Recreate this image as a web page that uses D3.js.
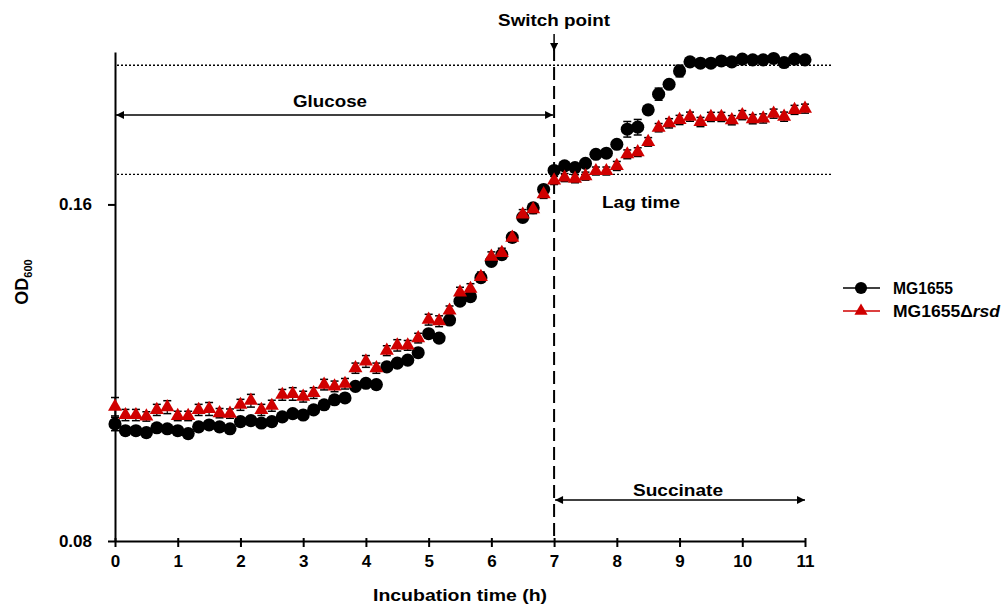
<!DOCTYPE html>
<html>
<head>
<meta charset="utf-8">
<script src="https://cdn.jsdelivr.net/npm/d3@7"></script>
<style>
  body { margin: 0; background: #fff; }
  svg { display: block; font-family: Arial, "Liberation Sans", sans-serif; }
</style>
</head>
<body>
<div id="chart"></div>
<script>
// sampling times, minutes
const minutes = [0,10,20,30,40,50,60,70,80,90,100,110,120,130,140,150,160,170,180,190,200,210,220,230,240,250,260,270,280,290,300,310,320,330,340,350,360,370,380,390,400,410,420,430,440,450,460,470,480,490,500,510,520,530,540,550,560,570,580,590,600,610,620,630,640,650,660]

const wt = [0.1018,0.1004,0.1004,0.1000,0.1010,0.1008,0.1004,0.0998,0.1012,0.1016,0.1012,0.1008,0.1023,0.1025,0.1020,0.1023,0.1033,0.1040,0.1037,0.1048,0.1059,0.1070,0.1074,0.1100,0.1107,0.1104,0.1145,0.1154,0.1161,0.1179,0.1226,0.1215,0.1261,0.1311,0.1323,0.1376,0.1423,0.1443,0.1495,0.1558,0.1589,0.1650,0.1716,0.1732,0.1726,0.1741,0.1774,0.1778,0.1811,0.1868,0.1876,0.1944,0.2008,0.2049,0.2106,0.2146,0.2140,0.2140,0.2150,0.2146,0.2158,0.2155,0.2155,0.2161,0.2143,0.2158,0.2155]
const wtErr = [0.0014,0.0006,0.0006,0.0006,0.0006,0.0006,0.0006,0.0006,0.0006,0.0006,0.0006,0.0006,0.0006,0.0006,0.0006,0.0006,0.0006,0.0006,0.0006,0.0006,0.0006,0.0007,0.0007,0.0007,0.0007,0.0007,0.0007,0.0007,0.0007,0.0007,0.0008,0.0010,0.0008,0.0008,0.0008,0.0008,0.0008,0.0008,0.0009,0.0009,0.0009,0.0009,0.0010,0.0010,0.0010,0.0010,0.0012,0.0010,0.0012,0.0030,0.0030,0.0012,0.0025,0.0012,0.0025,0.0012,0.0010,0.0010,0.0010,0.0010,0.0010,0.0010,0.0010,0.0010,0.0010,0.0010,0.0010]

const rsd = [0.1055,0.1037,0.1037,0.1034,0.1048,0.1054,0.1035,0.1035,0.1048,0.1050,0.1041,0.1040,0.1059,0.1068,0.1048,0.1057,0.1081,0.1083,0.1077,0.1085,0.1104,0.1100,0.1106,0.1142,0.1158,0.1142,0.1184,0.1197,0.1197,0.1215,0.1262,0.1258,0.1286,0.1335,0.1345,0.1378,0.1437,0.1448,0.1494,0.1567,0.1584,0.1634,0.1681,0.1691,0.1687,0.1696,0.1714,0.1714,0.1732,0.1774,0.1782,0.1820,0.1874,0.1891,0.1904,0.1917,0.1896,0.1916,0.1916,0.1903,0.1923,0.1907,0.1910,0.1929,0.1917,0.1944,0.1949]
const rsdErr = [0.0020,0.0012,0.0012,0.0010,0.0012,0.0014,0.0010,0.0010,0.0012,0.0014,0.0010,0.0010,0.0012,0.0014,0.0012,0.0012,0.0012,0.0014,0.0012,0.0012,0.0012,0.0012,0.0012,0.0012,0.0014,0.0012,0.0012,0.0014,0.0012,0.0012,0.0014,0.0014,0.0012,0.0014,0.0014,0.0014,0.0014,0.0014,0.0014,0.0016,0.0014,0.0014,0.0014,0.0014,0.0014,0.0014,0.0014,0.0014,0.0016,0.0016,0.0016,0.0016,0.0016,0.0018,0.0018,0.0018,0.0018,0.0018,0.0018,0.0018,0.0018,0.0018,0.0018,0.0018,0.0018,0.0018,0.0018]

const xTicks = [0,1,2,3,4,5,6,7,8,9,10,11]
const yTicks = [0.08, 0.16]
const switchHour = 7
const plateauLevels = [0.2131, 0.1702]

const width = 1007, height = 607

const svg = d3.select('#chart').append('svg')
  .attr('width', width)
  .attr('height', height)

const x = d3.scaleLinear().domain([0, 11]).range([115, 805])
const y = d3.scaleLog().domain([0.08, 0.219]).range([541, 52])

// bold label, stretched to the width it has in the original
function label(px, py, str, len, anchor) {
  return svg.append('text')
    .attr('x', px).attr('y', py)
    .attr('text-anchor', anchor || 'middle')
    .attr('font-size', 17).attr('font-weight', 'bold')
    .attr('textLength', len).attr('lengthAdjust', 'spacingAndGlyphs')
    .text(str)
}

const defs = svg.append('defs')
defs.append('marker')
  .attr('id', 'head')
  .attr('viewBox', '0 0 10 10')
  .attr('refX', 10).attr('refY', 5)
  .attr('markerWidth', 10).attr('markerHeight', 8)
  .attr('markerUnits', 'userSpaceOnUse')
  .attr('orient', 'auto-start-reverse')
  .append('path').attr('d', 'M0,0 L10,5 L0,10 z').attr('fill', '#000')

// dotted reference levels
svg.selectAll('.level')
  .data(plateauLevels)
  .enter().append('line')
    .attr('x1', x(0) + 2).attr('x2', 833)
    .attr('y1', d => y(d)).attr('y2', d => y(d))
    .attr('stroke', '#000').attr('stroke-width', 1.4)
    .attr('stroke-dasharray', '2,2')

// switch point dashed line
svg.append('line')
  .attr('x1', x(switchHour)).attr('x2', x(switchHour))
  .attr('y1', 48).attr('y2', y(0.08))
  .attr('stroke', '#000').attr('stroke-width', 2)
  .attr('stroke-dasharray', '13,6')

// axes
const xAxis = svg.append('g')
  .attr('transform', `translate(0,${y(0.08)})`)
  .call(d3.axisBottom(x).tickValues(xTicks).tickSize(6).tickSizeOuter(0).tickFormat(d3.format('d')))
xAxis.select('.domain').attr('stroke-width', 2)
xAxis.selectAll('.tick line').attr('stroke-width', 2).attr('y1', -3)
xAxis.selectAll('text').attr('font-size', 17).attr('font-weight', 'bold').attr('dy', '1.0em')

const yAxis = svg.append('g')
  .attr('transform', `translate(${x(0)},0)`)
  .call(d3.axisLeft(y).tickValues(yTicks).tickSize(7).tickSizeOuter(0).tickFormat(d3.format('.2f')))
yAxis.select('.domain').attr('stroke-width', 2)
yAxis.selectAll('.tick line').attr('stroke-width', 2)
yAxis.selectAll('text').attr('font-size', 17).attr('font-weight', 'bold').attr('x', -23)

label(460, 601, 'Incubation time (h)', 174)

const yLab = svg.append('text')
  .attr('transform', 'translate(28,282) rotate(-90)')
  .attr('text-anchor', 'middle')
  .attr('font-size', 18).attr('font-weight', 'bold')
yLab.append('tspan').text('OD')
yLab.append('tspan').attr('font-size', 11).attr('dy', 4).text('600')

// annotations
label(x(switchHour), 26, 'Switch point', 112)
svg.append('line')
  .attr('x1', x(switchHour)).attr('x2', x(switchHour))
  .attr('y1', 34).attr('y2', 51)
  .attr('stroke', '#000').attr('stroke-width', 1.5)
  .attr('marker-end', 'url(#head)')

svg.append('line')
  .attr('x1', x(0) + 1).attr('x2', x(switchHour) - 1)
  .attr('y1', 115).attr('y2', 115)
  .attr('stroke', '#000').attr('stroke-width', 1.5)
  .attr('marker-start', 'url(#head)').attr('marker-end', 'url(#head)')
label(330, 107, 'Glucose', 74)

svg.append('line')
  .attr('x1', x(switchHour) + 1).attr('x2', x(11))
  .attr('y1', 500).attr('y2', 500)
  .attr('stroke', '#000').attr('stroke-width', 1.5)
  .attr('marker-start', 'url(#head)').attr('marker-end', 'url(#head)')
label(678, 496, 'Succinate', 90)

label(602, 208, 'Lag time', 78, 'start')

// data series
const series = [
  { name: 'MG1655', values: wt, err: wtErr, color: '#000', shape: d3.symbolCircle, size: 135 },
  { name: 'rsd', values: rsd, err: rsdErr, color: '#d00000', shape: d3.symbolTriangle, size: 85 }
]

series.forEach(s => {
  const pts = minutes.map((m, i) => ({ t: m / 60, v: s.values[i], e: s.err[i] }))
  const g = svg.append('g')

  const eb = g.selectAll('.eb').data(pts).enter().append('g')
  eb.append('line')
    .attr('x1', d => x(d.t)).attr('x2', d => x(d.t))
    .attr('y1', d => y(d.v - d.e)).attr('y2', d => y(d.v + d.e))
    .attr('stroke', '#000').attr('stroke-width', 1.2)
  eb.append('line')
    .attr('x1', d => x(d.t) - 4).attr('x2', d => x(d.t) + 4)
    .attr('y1', d => y(d.v + d.e)).attr('y2', d => y(d.v + d.e))
    .attr('stroke', '#000').attr('stroke-width', 1.5)
  eb.append('line')
    .attr('x1', d => x(d.t) - 4).attr('x2', d => x(d.t) + 4)
    .attr('y1', d => y(d.v - d.e)).attr('y2', d => y(d.v - d.e))
    .attr('stroke', '#000').attr('stroke-width', 1.5)

  g.selectAll('.pt').data(pts).enter().append('path')
    .attr('d', d3.symbol().type(s.shape).size(s.size))
    .attr('transform', d => `translate(${x(d.t)},${y(d.v)})`)
    .attr('fill', s.color)
})

// legend
const legend = svg.append('g')
const rows = [
  { y: 288, color: '#000', shape: d3.symbolCircle, size: 115 },
  { y: 311, color: '#d00000', shape: d3.symbolTriangle, size: 75 }
]
rows.forEach((r, i) => {
  legend.append('line').attr('x1', 843).attr('x2', 880)
    .attr('y1', r.y).attr('y2', r.y)
    .attr('stroke', r.color).attr('stroke-width', 1.5)
  legend.append('path')
    .attr('d', d3.symbol().type(r.shape).size(r.size))
    .attr('transform', `translate(861,${r.y})`)
    .attr('fill', r.color)
  const t = legend.append('text').attr('x', 893).attr('y', r.y + 6)
    .attr('font-size', 16).attr('font-weight', 'bold')
  if (i === 0) {
    t.attr('textLength', 60).attr('lengthAdjust', 'spacingAndGlyphs').text('MG1655')
  } else {
    t.attr('textLength', 107).attr('lengthAdjust', 'spacingAndGlyphs')
    t.append('tspan').text('MG1655\u0394')
    t.append('tspan').attr('font-style', 'italic').text('rsd')
  }
})
</script>
</body>
</html>
